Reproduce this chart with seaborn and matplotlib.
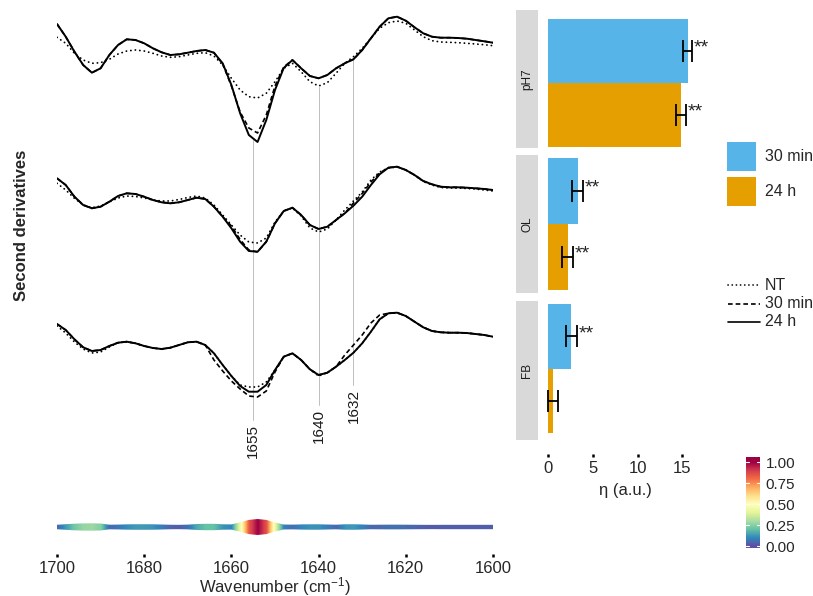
import numpy as np
import pandas as pd
import matplotlib
matplotlib.use("Agg")
import matplotlib.pyplot as plt
from matplotlib.patches import Rectangle
import seaborn as sns

# ---------------- data ----------------
wavenumber = np.arange(1700, 1599, -2)  # cm-1

# Second-derivative spectra (a.u.), amide I region
ph7_nt = [17.7, 11.7, 1.7, -5, -8.3, -7.7, -4.3, 1, 4, 5, 4, 1.7, -1, -2.3, -1.7, 0, 1.7, 2.3, -1, -10,
          -23.3, -35, -41.7, -43, -38.3, -26.7, -13.3, -8.3, -16.7, -26.7, -31, -27.7, -18.3, -8.3, -1.7,
          6.7, 16.7, 26.7, 32.3, 34, 31.7, 25, 18.3, 14.3, 13, 12.7, 12.3, 11.7, 11, 10.3, 9.3]
ph7_30 = [31, 18.3, 3.3, -10, -17.7, -13.3, 0, 10, 15.7, 15, 11.7, 6.7, 2.7, 0, 0.7, 2.3, 4, 5, 2.3, -9,
          -31, -57, -73, -78, -60, -31, -12, -5, -13.3, -21, -23.3, -20, -13.3, -8.3, -4.3,
          5, 16.7, 28.3, 36.7, 38.3, 34.3, 27.7, 21.7, 18.3, 17.3, 17.3, 17, 16.3, 15, 13.7, 12.3]
ph7_24 = [31, 18.3, 3.3, -10, -17.7, -13.3, 0, 10, 15.7, 15, 11.7, 6.7, 2.7, 0, 0.7, 2.3, 4, 5, 2.3, -8.3,
          -30, -58.3, -80, -87, -65, -35, -13, -5, -13.3, -21, -23.3, -20, -13.3, -8.3, -4.3,
          5, 16.7, 28.3, 36.7, 38.3, 34.3, 27.7, 21.7, 18.3, 17.3, 17.3, 17, 16.3, 15, 13.7, 12.3]

ol_nt = [16.7, 10, 1.7, -5, -7.7, -6, -2, 2, 4, 3.5, 2, 0, -1, -1, 0.5, 2.5, 4, 2, -5, -15,
         -25, -35, -42, -43, -38, -22, -11, -8, -16, -28, -32, -29, -20, -10, -1,
         8, 20, 28, 32, 33, 30, 25, 18.5, 15, 12.5, 12, 12, 11.5, 11, 10, 9]
ol_30 = [21.7, 15, 3.3, -5, -8.3, -6.7, -1.7, 4, 6.7, 6, 3.3, 0, -2.3, -3.3, -2.3, 0, 2.3, 1, -6.7, -16.7,
         -26, -39.5, -50, -52, -41.7, -23.3, -11, -7.7, -15, -25, -29, -26.7, -20, -13.3, -3,
         6.5, 18, 27, 32.3, 33.3, 30, 25, 19, 15.7, 13.3, 12.7, 12.7, 12.3, 11.7, 11, 10]
ol_24 = [21.7, 15, 3.3, -5, -8.3, -6.7, -1.7, 4, 6.7, 6, 3.3, 0, -2.3, -3.3, -2.3, 0, 2.3, 1, -6.7, -16.7,
         -28.3, -41.7, -51, -51.7, -41.7, -23.3, -11, -7.7, -15, -25, -29, -26.7, -20, -13.3, -5.7,
         3.3, 15, 25.7, 32.3, 33.3, 30, 25, 19, 15.7, 13.3, 12.7, 12.7, 12.3, 11.7, 11, 10]

fb_nt = [19, 12, 3, -4, -8, -7, -2, 2.3, 3.3, 1.7, -1, -3, -4, -2.7, 0, 2.7, 3.3, 0, -8.3, -20,
         -31, -40, -42, -42, -37, -25, -11.7, -8.3, -15, -24.3, -31, -27.7, -21.7, -15, -7.7,
         1.7, 13.3, 25.7, 31.7, 32.3, 29, 23.3, 17.7, 14, 12.7, 12.3, 12.3, 12, 11, 10, 8.3]
fb_30 = [21, 15, 5.7, -2.3, -6, -5, -1, 2.3, 3.3, 1.7, -1, -3, -4, -2.7, 0, 2.7, 3.3, 0, -15, -26,
         -36, -44, -51, -52, -46, -27, -11.7, -8.3, -15, -24.3, -30, -27.7, -21.7, -10, 0,
         10, 22, 30, 31.7, 32.3, 29, 23.3, 17.7, 14, 12.7, 12.3, 12.3, 12, 11, 10, 8.3]
fb_24 = [21, 15, 5.7, -2.3, -6, -5, -1, 2.3, 3.3, 1.7, -1, -3, -4, -2.7, 0, 2.7, 3.3, 0, -8.3, -20,
         -31, -41, -46.7, -46.7, -40, -25, -11.7, -8.3, -15, -24.3, -30, -27.7, -21.7, -15, -7.7,
         1.7, 13.3, 25.7, 31.7, 32.3, 29, 23.3, 17.7, 14, 12.7, 12.3, 12.3, 12, 11, 10, 8.3]

# Relative band weight along the spectrum (0..1)
band_weight = [0.04, 0.13, 0.22, 0.27, 0.28, 0.25, 0.05, 0.07, 0.11, 0.13, 0.13, 0.12, 0.08, 0.04, 0.03,
               0.06, 0.16, 0.20, 0.20, 0.12, 0.10, 0.45, 0.85, 1.00, 0.85, 0.42, 0.08, 0.06, 0.10, 0.12,
               0.12, 0.08, 0.05, 0.12, 0.13, 0.09, 0.04, 0.05, 0.06, 0.06, 0.05, 0.04, 0.03, 0.02, 0.03,
               0.03, 0.03, 0.03, 0.03, 0.03, 0.03]

peak_positions = [1655, 1640, 1632]

samples = ["pH7", "OL", "FB"]
times = ["30 min", "24 h"]
eta_30 = [15.6, 3.3, 2.6]
eta_24 = [14.9, 2.2, 0.6]
err_30 = [0.52, 0.6, 0.63]
err_24 = [0.55, 0.6, 0.55]
signif_30 = ["**", "**", "**"]
signif_24 = ["**", "**", ""]

# ---------------- style ----------------
sns.set_theme(style="white")
plt.rcParams["font.family"] = ["Liberation Sans", "DejaVu Sans"]
plt.rcParams["mathtext.fontset"] = "custom"
plt.rcParams["mathtext.rm"] = "Liberation Sans"
plt.rcParams["mathtext.it"] = "Liberation Sans:italic"

BLUE, ORANGE = "#56B4E9", "#E69F00"
W, H = 813, 596
fig = plt.figure(figsize=(W / 100, H / 100), dpi=100)
fig.patch.set_facecolor("white")


def px_axes(x0, y0, x1, y1):
    ax = fig.add_axes([x0 / W, 1 - y1 / H, (x1 - x0) / W, (y1 - y0) / H])
    ax.set_facecolor("none")
    return ax


# ---------------- stacked second-derivative spectra ----------------
ax_s = px_axes(57, 0, 493, 470)
offsets = [-55, -200, -345]
spectra = {"pH7": (ph7_nt, ph7_30, ph7_24), "OL": (ol_nt, ol_30, ol_24), "FB": (fb_nt, fb_30, fb_24)}
rows = []
for s, off in zip(samples, offsets):
    for t, arr in zip(["NT", "30 min", "24 h"], spectra[s]):
        for w, v in zip(wavenumber, arr):
            rows.append((s, t, w, off + v))
spec = pd.DataFrame(rows, columns=["sample", "time", "wn", "y"])

line_styles = {
    "NT": dict(linewidth=1.3, linestyle=(0, (0.1, 2.4)), dash_capstyle="round"),
    "30 min": dict(linewidth=1.2, linestyle=(0, (2.8, 1.8))),
    "24 h": dict(linewidth=1.4, linestyle="-"),
}
for t in ["NT", "30 min", "24 h"]:
    sns.lineplot(data=spec[spec["time"] == t], x="wn", y="y", units="sample", estimator=None,
                 sort=False, color="black", legend=False, ax=ax_s, **line_styles[t])

guide_end = {1655: -420, 1640: -405, 1632: -385}
wn_inc = wavenumber[::-1]
for pk in peak_positions:
    start = offsets[0] + min(np.interp(pk, wn_inc, np.array(a)[::-1]) for a in spectra["pH7"])
    ax_s.plot([pk, pk], [start - 1, guide_end[pk]], color="#BEBEBE", lw=0.7, zorder=0)
    ax_s.text(pk, guide_end[pk] - 4, str(pk), rotation=90, ha="center", va="top", fontsize=11,
              color="#1A1A1A")
ax_s.set_xlim(1700, 1600)
ax_s.set_ylim(-470, 0)
ax_s.axis("off")

# ---------------- band-weight ribbon ----------------
ax_r = px_axes(57, 503, 493, 551)
bw = np.array(band_weight)
half = (4 + 12 * bw) / 2
poly = ax_r.fill_between(wavenumber, -half, half, color="none", lw=0)
im = ax_r.imshow(bw[None, :], cmap="Spectral_r", vmin=0, vmax=1, extent=[1701, 1599, -24, 24],
                 aspect="auto", interpolation="bilinear")
im.set_clip_path(poly.get_paths()[0], transform=ax_r.transData)
ax_r.set_xlim(1700, 1600)
ax_r.set_ylim(-24, 24)
for sp in ax_r.spines.values():
    sp.set_visible(False)
ax_r.spines["bottom"].set_position(("outward", 1.8))
ax_r.set_yticks([])
ax_r.set_xticks([1700, 1680, 1660, 1640, 1620, 1600])
ax_r.tick_params(axis="x", bottom=True, length=2, width=1.8, color="black", labelsize=12, pad=3.5)
ax_r.set_xlabel("Wavenumber (cm$^{-1}$)", fontsize=12, labelpad=-1)

# ---------------- eta bar panels ----------------
bars = pd.DataFrame({
    "sample": samples * 2,
    "time": [times[0]] * 3 + [times[1]] * 3,
    "eta": eta_30 + eta_24,
    "err": err_30 + err_24,
    "signif": signif_30 + signif_24,
})
panel_px = {"pH7": (10, 148), "OL": (155, 293), "FB": (301, 440)}
bar_px = {"pH7": (19, 147), "OL": (158, 290), "FB": (304, 433)}

for s in samples:
    p0, p1 = panel_px[s]
    b0, b1 = bar_px[s]
    ax = px_axes(540, p0, 710, p1)
    sub = bars[bars["sample"] == s]
    sns.barplot(data=sub, x="eta", y="sample", hue="time", hue_order=times, palette=[BLUE, ORANGE],
                saturation=1, width=1.0, orient="h", errorbar=None, legend=False, linewidth=0, ax=ax)
    for p in ax.patches:
        w = p.get_width()
        row = sub.iloc[int(np.argmin(np.abs(sub["eta"].values - w)))]
        yc = p.get_y() + p.get_height() / 2
        ax.errorbar(w, yc, xerr=row["err"], fmt="none", ecolor="black", elinewidth=1.3,
                    capsize=8, capthick=1.3)
        if row["signif"]:
            ax.text(w + row["err"] + 0.15, yc - 0.02, row["signif"], ha="left", va="center",
                    fontsize=14)
    scale = b1 - b0
    ax.set_ylim(0.5 + (p1 - b1) / scale, -0.5 - (b0 - p0) / scale)
    ax.set_xlim(-0.894, 18.1)
    ax.set_yticks([])
    ax.set_ylabel("")
    for sp in ax.spines.values():
        sp.set_visible(False)
    if s == "FB":
        ax.spines["bottom"].set_position(("outward", 10))
        ax.set_xticks([0, 5, 10, 15])
        ax.tick_params(axis="x", bottom=True, length=2, width=1.8, color="black", labelsize=12, pad=3)
        ax.set_xlabel("η (a.u.)", fontsize=12, labelpad=5)
    else:
        ax.set_xticks([])
        ax.set_xlabel("")

# ---------------- colour bar ----------------
ax_c = px_axes(746, 457, 760, 548)
lo, hi = -0.02, 1.06
grad = np.clip(np.linspace(lo, hi, 256), 0, 1)[:, None]
ax_c.imshow(grad, cmap="Spectral_r", vmin=0, vmax=1, origin="lower", extent=[0, 1, lo, hi], aspect="auto")
cb_ticks = [0, 0.25, 0.5, 0.75, 1.0]
for v in cb_ticks:
    ax_c.plot([0, 0.2], [v, v], color="white", lw=0.8)
    ax_c.plot([0.8, 1], [v, v], color="white", lw=0.8)
ax_c.set_xlim(0, 1)
ax_c.set_ylim(lo, hi)
ax_c.set_xticks([])
ax_c.yaxis.tick_right()
ax_c.set_yticks(cb_ticks)
ax_c.set_yticklabels([f"{v:.2f}" for v in cb_ticks])
ax_c.tick_params(axis="y", length=0, pad=4, labelsize=11)
for sp in ax_c.spines.values():
    sp.set_visible(False)

# ---------------- annotations, strips and legends ----------------
ov = px_axes(0, 0, W, H)
ov.set_xlim(0, W)
ov.set_ylim(H, 0)
ov.axis("off")

ov.text(22, 225, "Second derivatives", rotation=90, ha="center", va="center", fontsize=12,
        fontweight="bold")

for s in samples:
    p0, p1 = panel_px[s]
    ov.add_patch(Rectangle((516, p0), 22, p1 - p0, facecolor="#D9D9D9", edgecolor="none"))
    ov.text(527, (p0 + p1) / 2, s, rotation=90, ha="center", va="center", fontsize=8.5, color="#1A1A1A")

for (y0, col, lab) in [(142, BLUE, times[0]), (177, ORANGE, times[1])]:
    ov.add_patch(Rectangle((727, y0), 29, 29, facecolor=col, edgecolor="none"))
    ov.text(765, y0 + 14.5, lab, ha="left", va="center", fontsize=11.5)

for (y0, t, lab) in [(285, "NT", "NT"), (304, "30 min", "30 min"), (322, "24 h", "24 h")]:
    kw = dict(line_styles[t])
    kw["linewidth"] = min(kw["linewidth"], 1.2)
    ov.plot([728, 760], [y0, y0], color="black", **kw)
    ov.text(765, y0, lab, ha="left", va="center", fontsize=11.5)

fig.savefig("out.png", dpi=100, facecolor="white")
